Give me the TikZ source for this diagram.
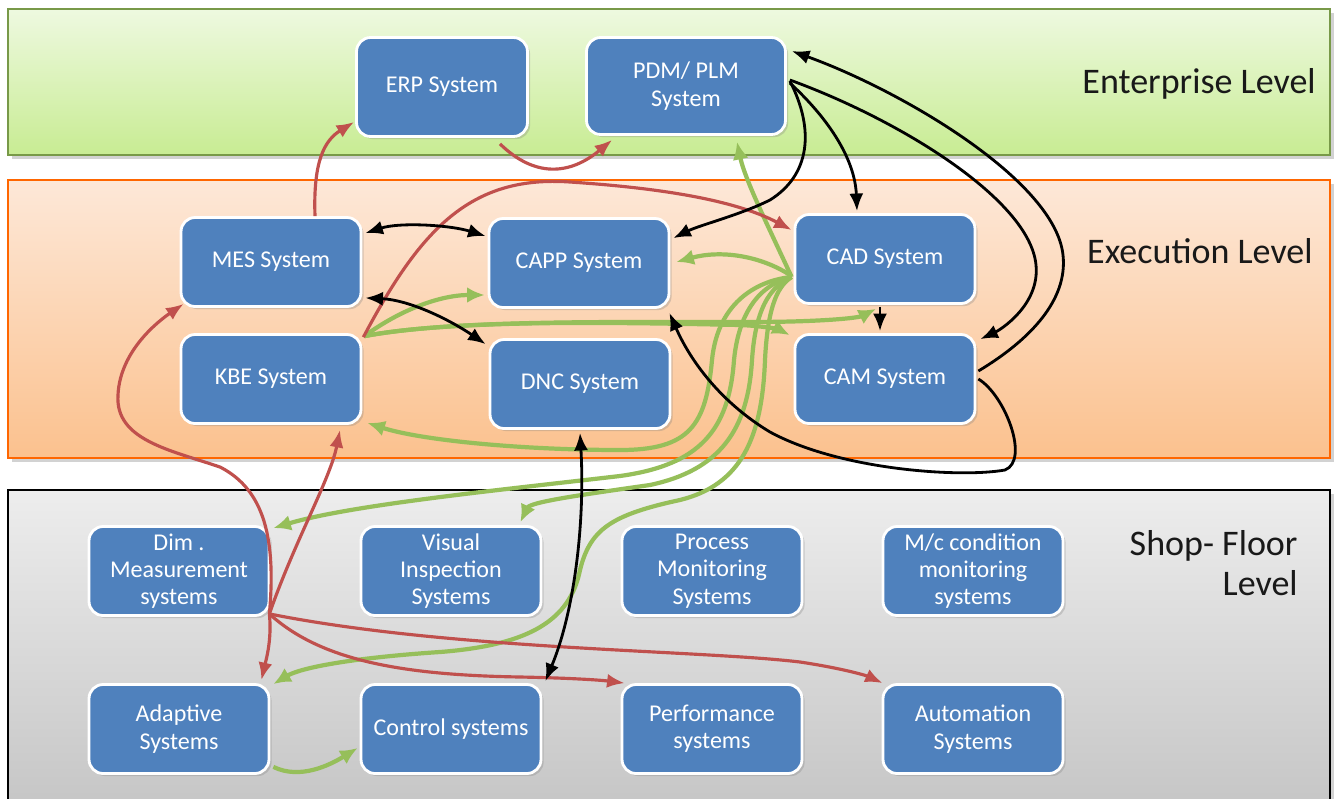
\documentclass[tikz,border=0pt]{standalone}
\usepackage{fontspec}
\setmainfont{Carlito}
\usetikzlibrary{arrows.meta,calc,shadows}
\definecolor{boxblue}{HTML}{4F81BD}
\definecolor{rline}{HTML}{C0504D}
\definecolor{gline}{HTML}{96BF5A}
\definecolor{entTop}{HTML}{EEF9E0}
\definecolor{entBot}{HTML}{C8EC93}
\definecolor{exeTop}{HTML}{FDE8D8}
\definecolor{exeBot}{HTML}{FBC18E}
\definecolor{shopTop}{HTML}{EDEDED}
\definecolor{shopBot}{HTML}{C6C6C6}
\tikzset{
  sysbox/.style={rectangle, rounded corners=8pt, fill=boxblue, draw=white, line width=1.6pt,
    text=white, align=center, minimum width=3.6cm, minimum height=1.78cm, inner sep=2pt,
    font=\fontsize{13.7}{15.5}\selectfont,
    drop shadow={shadow xshift=1.5pt, shadow yshift=-1.5pt, opacity=0.3}},
  lvl/.style={anchor=east, align=right, inner sep=0pt, text=black!90, font=\fontsize{20.5}{22.5}\selectfont},
  band/.style={line width=0.6pt, drop shadow={shadow xshift=2pt, shadow yshift=-2pt, opacity=0.35}},
  redc/.style={draw=rline, line width=1.8pt, -{Latex[length=10pt,width=8pt]}},
  blkc/.style={draw=black, line width=1.6pt, -{Latex[length=10pt,width=8pt]}},
  blkd/.style={draw=black, line width=1.6pt, {Latex[length=10pt,width=8pt]}-{Latex[length=10pt,width=8pt]}},
  grnc/.style={draw=gline, line width=2.4pt, -{Latex[length=10pt,width=9pt]}},
}
\begin{document}
\begin{tikzpicture}[x=0.02cm,y=-0.02cm]
\useasboundingbox (0,0) rectangle (1339,798);
\fill[white] (0,0) rectangle (1339,798);
% bands
\filldraw[band, draw=gline!80!black, top color=entTop, bottom color=entBot] (8,9) rectangle (1330,155);
\filldraw[band, draw=orange!80!red, top color=exeTop, bottom color=exeBot] (8,180) rectangle (1330,458);
\filldraw[band, draw=black, top color=shopTop, bottom color=shopBot] (8,490) rectangle (1330,805);

% level labels
\node[lvl] (lent) at (1316,84) {Enterprise Level};
\node[lvl] (lexe) at (1313,251) {Execution Level};
\node[lvl] (lshop) at (1298,563) {Shop- Floor\\Level};

% systems
\node[sysbox, minimum width=3.42cm, minimum height=1.98cm] (erp) at (442,87) {ERP System};
\node[sysbox, minimum width=3.98cm, minimum height=1.94cm] (pdm) at (686,86) {PDM/ PLM\\System};
\node[sysbox] (mes) at (271,262) {MES System};
\node[sysbox] (capp) at (579,263) {CAPP System};
\node[sysbox] (cad) at (885,259) {CAD System};
\node[sysbox] (kbe) at (271,379) {KBE System};
\node[sysbox] (dnc) at (580,384) {DNC System};
\node[sysbox] (cam) at (885,379) {CAM System};
\node[sysbox] (dim) at (179,571) {Dim .\\Measurement\\systems};
\node[sysbox] (vis) at (451,571) {Visual\\Inspection\\Systems};
\node[sysbox] (proc) at (712,571) {Process\\Monitoring\\Systems};
\node[sysbox] (mc) at (973,571) {M/c condition\\monitoring\\systems};
\node[sysbox] (adap) at (179,729) {Adaptive\\Systems};
\node[sysbox] (ctrl) at (451,729) {Control systems};
\node[sysbox] (perf) at (712,729) {Performance\\systems};
\node[sysbox] (auto) at (973,729) {Automation\\Systems};

% green connectors
\draw[grnc] ($(cad.west)+(-2,17)$) .. controls (760,255) and (720,250) .. ($(capp.east)+(6,-1)$);
\draw[grnc] ($(cad.west)+(-2,18)$) .. controls (770,230) and (745,180) .. ($(pdm.south)+(51,6)$);
\draw[grnc] ($(kbe.north east)+(2,3)$) .. controls (400,310) and (440,295) .. ($(capp.west)+(-3,32)$);
\draw[grnc] ($(kbe.north east)+(2,3)$) .. controls (450,320) and (600,322) .. (750,322) .. controls (820,322) and (858,318) .. ($(cad.south)+(-9,4)$);
\draw[grnc] ($(kbe.north east)+(2,3)$) .. controls (450,320) and (600,322) .. (740,325) .. controls (765,326) and (780,330) .. ($(cam.north west)+(-4,2)$);
\draw[grnc] ($(cad.west)+(-2,18)$) .. controls (760,280) and (718,300) .. (712,360) .. controls (706,425) and (690,450) .. (620,450) .. controls (520,450) and (420,440) .. ($(kbe.south east)+(5,-2)$);
\draw[grnc] ($(cad.west)+(-2,18)$) .. controls (770,282) and (740,300) .. (734,360) .. controls (729,430) and (700,465) .. (620,476) .. controls (500,490) and (350,505) .. ($(dim.north east)+(3,3)$);
\draw[grnc] ($(cad.west)+(-2,18)$) .. controls (775,285) and (756,300) .. (752,360) .. controls (748,430) and (720,470) .. (650,485) .. controls (580,495) and (530,502) .. ($(vis.north east)+(-22,-3)$);
\draw[grnc] ($(cad.west)+(-2,18)$) .. controls (780,285) and (768,300) .. (765,360) .. controls (762,440) and (740,485) .. (680,500) .. controls (610,515) and (590,530) .. (580,570) .. controls (570,620) and (530,645) .. (440,652) .. controls (350,658) and (300,668) .. ($(adap.north east)+(3,1)$);
\draw[grnc] ($(adap.south east)+(3,-8)$) .. controls (300,780) and (330,765) .. ($(ctrl.west)+(-2,19)$);

% red connectors
\draw[redc] ($(mes.north)+(44,0)$) .. controls (313,160) and (325,140) .. ($(erp.west)+(-1,35)$);
\draw[redc] ($(erp.south)+(58,6)$) .. controls (535,178) and (570,175) .. ($(pdm.south west)+(27,4)$);
\draw[redc] ($(kbe.north east)+(1,4)$) .. controls (420,230) and (470,175) .. (570,182) .. controls (660,188) and (735,200) .. ($(cad.west)+(-2,-29)$);
\draw[redc] ($(dim.south east)+(-1,-3)$) .. controls (276,540) and (265,490) .. (220,467) .. controls (170,450) and (115,440) .. (118,395) .. controls (120,350) and (160,320) .. ($(mes.south west)+(4,-4)$);
\draw[redc] ($(dim.south east)+(-1,-3)$) .. controls (272,640) and (266,660) .. ($(adap.north east)+(-9,-3)$);
\draw[redc] ($(dim.south east)+(-1,-3)$) .. controls (295,540) and (330,480) .. ($(kbe.south)+(69,5)$);
\draw[redc] ($(dim.south east)+(-1,-3)$) .. controls (320,660) and (400,675) .. (520,677) .. controls (570,678) and (600,680) .. ($(perf.north west)+(4,0)$);
\draw[redc] ($(dim.south east)+(-1,-3)$) .. controls (450,650) and (700,650) .. (800,662) .. controls (840,668) and (865,675) .. ($(auto.north west)+(1,0)$);

% black connectors
\draw[blkd] ($(mes.north east)+(3,17)$) .. controls (400,222) and (450,225) .. ($(capp.north west)+(-2,19)$);
\draw[blkd] ($(mes.south east)+(3,-10)$) .. controls (410,300) and (450,320) .. ($(dnc.north west)+(-3,6)$);
\draw[blkc] ($(pdm.east)+(3,-5)$) .. controls (815,130) and (810,175) .. (770,200) .. controls (740,215) and (700,225) .. ($(capp.north east)+(3,21)$);
\draw[blkc] ($(pdm.east)+(3,-3)$) .. controls (830,120) and (855,160) .. ($(cad.north)+(-28,-2)$);
\draw[blkc] ($(pdm.east)+(3,-6)$) .. controls (900,120) and (1030,200) .. (1036,265) .. controls (1040,305) and (1000,330) .. ($(cam.north east)+(4,6)$);
\draw[blkc] ($(cam.east)+(2,-8)$) .. controls (1030,340) and (1068,300) .. (1063,255) .. controls (1055,180) and (900,90) .. ($(pdm.north east)+(5,15)$);
\draw[blkc] ($(cad.south)+(-5,2)$) -- ($(cam.north)+(-5,-2)$);
\draw[blkc] ($(cam.east)+(2,0)$) .. controls (1005,395) and (1030,460) .. (1005,470) .. controls (960,478) and (840,470) .. (770,432) .. controls (720,402) and (690,360) .. ($(capp.south east)+(-1,4)$);
\draw[blkd] ($(dnc.south)+(0,3)$) .. controls (585,520) and (575,610) .. ($(ctrl.north east)+(3,-2)$);
\end{tikzpicture}
\end{document}
